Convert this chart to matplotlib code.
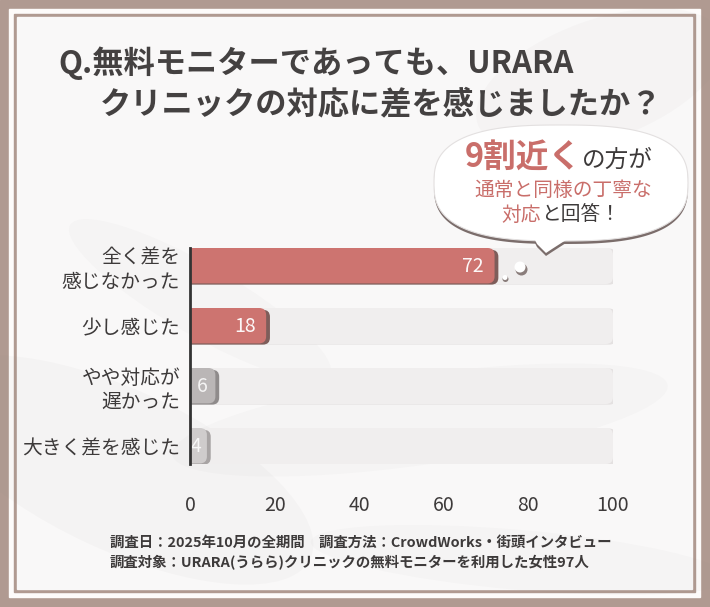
import numpy as np
import matplotlib.pyplot as plt
from matplotlib.patches import Rectangle, FancyBboxPatch, Polygon, Ellipse, Circle
from matplotlib.offsetbox import TextArea, HPacker, AnnotationBbox

plt.rcParams['font.family'] = ['Noto Sans CJK JP', 'DejaVu Sans']

# data
categories = ['全く差を\n感じなかった', '少し感じた', 'やや対応が\n遅かった', '大きく差を感じた']
values = [72, 18, 6, 4]
xticks = [0, 20, 40, 60, 80, 100]

title1 = 'Q.無料モニターであっても、URARA'
title2 = 'クリニックの対応に差を感じましたか？'
note1 = '調査日：2025年10月の全期間　調査方法：CrowdWorks・街頭インタビュー'
note2 = '調査対象：URARA(うらら)クリニックの無料モニターを利用した女性97人'

pink = '#cd7470'
pink_text = '#c96e6a'
dark = '#3d3a3a'
brown = '#b09a91'
bar_colors = [pink, pink, '#bab6b6', '#cfcccc']
shadow_colors = ['#7e5d5a', '#7e5d5a', '#8f8b8b', '#a8a4a4']

W, H = 710, 607
fig = plt.figure(figsize=(W / 100, H / 100), dpi=100)

# background + frame
bg = fig.add_axes([0, 0, 1, 1], zorder=0)
bg.set_xlim(0, W)
bg.set_ylim(H, 0)
bg.axis('off')
bg.add_patch(Rectangle((0, 0), W, H, color=brown))
bg.add_patch(Rectangle((9, 9), 691, 588, color='#fdfbfa'))
bg.add_patch(Rectangle((14, 14), 681, 578, color=brown))
bg.add_patch(Rectangle((17, 17), 675, 572, color='#f9f8f8'))
# faint grey swirls
for (cx, cy, w, h, ang, a) in [(120, 470, 420, 160, 25, 0.04), (420, 420, 500, 90, -8, 0.03),
                               (600, 80, 260, 120, -20, 0.035), (200, 300, 300, 70, 30, 0.03),
                               (520, 560, 420, 60, 5, 0.03)]:
    bg.add_patch(Ellipse((cx, cy), w, h, angle=ang, color='#8a8484', alpha=a, lw=0))

# main chart
ax = fig.add_axes([190 / W, 1 - 464 / H, 423 / W, 216 / H], zorder=1)
ax.patch.set_alpha(0)
ax.set_xlim(0, 100)
ax.set_ylim(3.3, -0.3)
px = 100 / 423.0
py = 3.6 / 216.0
r = 7 * px
asp = py / px
h = 0.6

for i, v in enumerate(values):
    # track
    ax.add_patch(FancyBboxPatch((-5, i - h / 2 + 0.01), 105 + 0.8, h, boxstyle=f'round,pad=0,rounding_size={r}',
                                mutation_aspect=asp, fc='#e4e1e1', ec='none', zorder=1))
    ax.add_patch(FancyBboxPatch((-5, i - h / 2), 105, h, boxstyle=f'round,pad=0,rounding_size={r}',
                                mutation_aspect=asp, fc='#f0eeee', ec='none', zorder=1.5))
    # bar shadow + bar
    ax.add_patch(FancyBboxPatch((-5, i - h / 2 + 0.03), v + 5 + 0.9, h - 0.02, boxstyle=f'round,pad=0,rounding_size={r}',
                                mutation_aspect=asp, fc=shadow_colors[i], ec='none', zorder=2))
    ax.add_patch(FancyBboxPatch((-5, i - h / 2), v + 5, h - 0.01, boxstyle=f'round,pad=0,rounding_size={r}',
                                mutation_aspect=asp, fc=bar_colors[i], ec='none', zorder=3))
    ax.text(v - min(2.5, 0.3 * v), i + 0.01, str(v), ha='right', va='center', color='white',
            fontsize=14, zorder=4, alpha=0.95 if i < 2 else 0.85)

ax.set_yticks(range(len(categories)))
ax.set_yticklabels(categories, fontsize=14.2, color=dark, linespacing=1.2)
ax.set_xticks(xticks)
ax.set_xticklabels([str(t) for t in xticks], fontsize=14, color=dark)
ax.tick_params(axis='both', length=0)
ax.tick_params(axis='x', pad=22)
ax.tick_params(axis='y', pad=7)
for s in ['top', 'right', 'bottom']:
    ax.spines[s].set_visible(False)
ax.spines['left'].set_color('#333333')
ax.spines['left'].set_linewidth(2)
ax.spines['left'].set_zorder(5)

# overlay: title, bubble, notes
ov = fig.add_axes([0, 0, 1, 1], zorder=3)
ov.patch.set_alpha(0)
ov.set_xlim(0, W)
ov.set_ylim(H, 0)
ov.axis('off')

ov.text(58, 63, title1, fontsize=22.5, fontweight='bold', color='#444141', ha='left', va='center')
ov.text(100, 104, title2, fontsize=22.5, fontweight='bold', color='#444141', ha='left', va='center')

# speech bubble
t = np.linspace(0, 2 * np.pi, 200)
n = 2.7
cx, cy, a, b = 561, 183, 127, 58
bx = cx + a * np.sign(np.cos(t)) * np.abs(np.cos(t)) ** (2 / n)
by = cy + b * np.sign(np.sin(t)) * np.abs(np.sin(t)) ** (2 / n)
body = np.column_stack([bx, by])
tail = np.array([[530, 230], [537, 244], [546, 253], [552, 249], [566, 240], [580, 232]])
for dx, dy, col in [(0, 3, '#7b6d6b')]:
    ov.add_patch(Polygon(body + [dx, dy], closed=True, fc=col, ec='none', zorder=1))
    ov.add_patch(Polygon(tail + [dx, dy], closed=True, fc=col, ec='none', zorder=1))
ov.add_patch(Polygon(body, closed=True, fc='white', ec='#e3e0e0', lw=0.8, zorder=2))
ov.add_patch(Polygon(tail, closed=True, fc='white', ec='none', zorder=2.5))
# little thought dots
ov.add_patch(Circle((521.5, 269.5), 6, fc='#8a7d7b', ec='none', zorder=2))
ov.add_patch(Circle((520, 267), 5.5, fc='white', ec='none', zorder=2.5))
ov.add_patch(Circle((505.5, 279), 3, fc='#8a7d7b', ec='none', zorder=2))
ov.add_patch(Circle((505, 277.5), 2.5, fc='white', ec='none', zorder=2.5))


def line(parts, xy):
    boxes = [TextArea(s, textprops=dict(color=c, fontsize=fs, fontweight=fw)) for s, c, fs, fw in parts]
    pack = HPacker(children=boxes, align='baseline', pad=0, sep=0)
    ab = AnnotationBbox(pack, xy, xycoords='data', frameon=False, box_alignment=(0.5, 0.5), zorder=4)
    ov.add_artist(ab)


line([('9割近く', pink_text, 23.5, 'bold'), ('の方が', dark, 17, 'normal')], (559, 157))
line([('通常と同様の丁寧な', pink_text, 14.2, 'normal')], (563, 190))
line([('対応', pink_text, 14.2, 'normal'), ('と回答！', dark, 14.2, 'normal')], (561, 215))

ov.text(110, 543, note1, fontsize=10.4, fontweight='bold', color=dark, ha='left', va='center')
ov.text(110, 563, note2, fontsize=10.4, fontweight='bold', color=dark, ha='left', va='center')

fig.savefig('out.png', dpi=100)
